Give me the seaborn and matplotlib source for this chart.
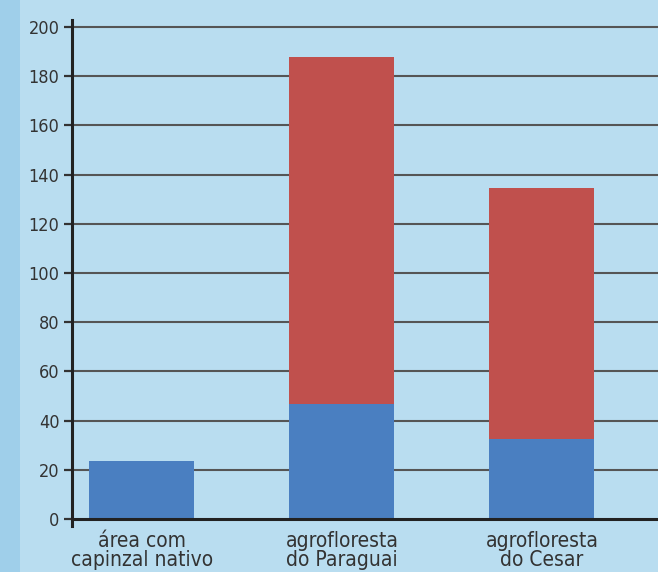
import matplotlib.pyplot as plt
import pandas as pd
import seaborn as sns
from matplotlib.patches import Rectangle

categories = ["área com\ncapinzal nativo", "agrofloresta\ndo Paraguai", "agrofloresta\ndo Cesar"]
blue_values = [23.6, 46.7, 32.5]
red_values = [0.0, 141.1, 102.1]
y_ticks = [0, 20, 40, 60, 80, 100, 120, 140, 160, 180, 200]

df = pd.DataFrame({"categoria": categories, "azul": blue_values, "vermelho": red_values})
df["total"] = df["azul"] + df["vermelho"]

sns.set_style("white")
plt.rcParams['font.family'] = ['DejaVu Sans']
plt.rcParams['font.stretch'] = 'condensed'

bg = "#b9ddf0"
fig = plt.figure(figsize=(6.58, 5.72), dpi=100, facecolor=bg)
# darker strip on the left edge
fig.patches.append(Rectangle((0, 0), 0.03, 1, transform=fig.transFigure,
                             facecolor="#9fcfea", edgecolor="none", zorder=0))
ax = fig.add_axes([0.1094, 0.0797, 0.8906, 0.886])
ax.set_facecolor("none")

sns.barplot(data=df, x="categoria", y="total", ax=ax, color="#c0504d",
            width=0.525, saturation=1, linewidth=0, zorder=3)
sns.barplot(data=df, x="categoria", y="azul", ax=ax, color="#4a7fc1",
            width=0.525, saturation=1, linewidth=0, zorder=4)

ax.set_xlim(-0.35, 2.58)
ax.set_ylim(-3, 203)
ax.set_yticks(y_ticks)
for t in y_ticks[1:]:
    ax.axhline(t, color="#555555", linewidth=1.5, zorder=1)
ax.axhline(0, color="#222222", linewidth=2.2, zorder=5)

for s in ["top", "right", "bottom"]:
    ax.spines[s].set_visible(False)
ax.spines["left"].set_color("#222222")
ax.spines["left"].set_linewidth(2.2)
ax.spines["left"].set_zorder(6)

ax.tick_params(axis="y", length=6, width=1.6, color="#333333", labelsize=13,
               labelcolor="#333333", left=True, pad=3)
ax.tick_params(axis="x", length=0, labelsize=15, labelcolor="#333333", pad=3)
for lbl in ax.get_xticklabels():
    lbl.set_linespacing(0.95)
ax.set_xlabel("")
ax.set_ylabel("")

plt.savefig("out.png", dpi=100, facecolor=bg)
